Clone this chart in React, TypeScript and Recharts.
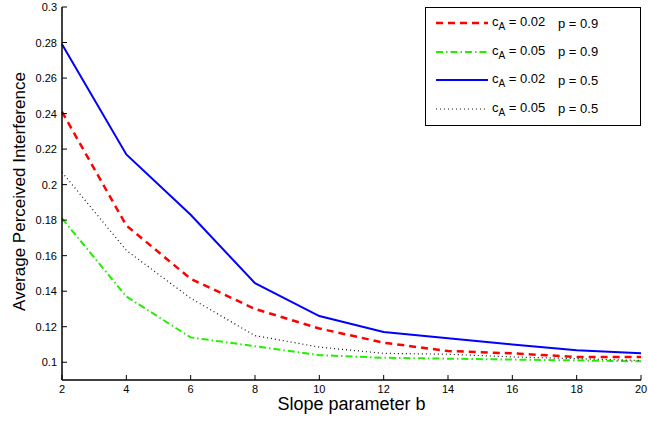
import React from "react";
import { LineChart, Line, XAxis, YAxis, Legend } from "recharts";

const slopeB = [2, 4, 6, 8, 10, 12, 14, 16, 18, 20];
const redA002p09 = [0.241, 0.177, 0.147, 0.13, 0.119, 0.111, 0.1063, 0.105, 0.103, 0.103];
const greenA005p09 = [0.181, 0.137, 0.114, 0.109, 0.104, 0.1025, 0.102, 0.1015, 0.101, 0.1005];
const blueA002p05 = [0.279, 0.217, 0.183, 0.1445, 0.126, 0.117, 0.1135, 0.11, 0.1068, 0.105];
const blackA005p05 = [0.207, 0.163, 0.136, 0.115, 0.1085, 0.105, 0.1045, 0.103, 0.102, 0.101];

const xTicks = [2, 4, 6, 8, 10, 12, 14, 16, 18, 20];
const yTicks = [0.1, 0.12, 0.14, 0.16, 0.18, 0.2, 0.22, 0.24, 0.26, 0.28, 0.3];

const data = slopeB.map((b, i) => ({
  b,
  r: redA002p09[i],
  g: greenA005p09[i],
  u: blueA002p05[i],
  k: blackA005p05[i],
}));

const series = [
  { key: "r", cA: "0.02", p: "0.9", color: "#ff0000", width: 2.5, dash: "7 5" },
  { key: "g", cA: "0.05", p: "0.9", color: "#22ee00", width: 2, dash: "7 3 1.5 3" },
  { key: "u", cA: "0.02", p: "0.5", color: "#0000ff", width: 2, dash: undefined },
  { key: "k", cA: "0.05", p: "0.5", color: "#111111", width: 1.2, dash: "1 3" },
];

const FONT = "'Liberation Sans', Arial, Helvetica, sans-serif";
const TICK = 5;

const LeftTick = (props: any) => {
  const { x, y, payload } = props;
  return (
    <g>
      <line x1={x + 5} x2={x + 5 + TICK} y1={y} y2={y} stroke="#000" strokeWidth={1} />
      <text x={x} y={y} textAnchor="end" dominantBaseline="central" fontSize={11} fill="#000" fontFamily={FONT}>
        {payload.value}
      </text>
    </g>
  );
};

const BottomTick = (props: any) => {
  const { x, y, payload } = props;
  return (
    <g>
      <line x1={x} x2={x} y1={y - 4} y2={y - 4 - TICK} stroke="#000" strokeWidth={1} />
      <text x={x} y={y} dy="0.8em" textAnchor="middle" fontSize={11} fill="#000" fontFamily={FONT}>
        {payload.value}
      </text>
    </g>
  );
};

const TopTick = (props: any) => {
  const { x, y } = props;
  return <line x1={x} x2={x} y1={y} y2={y + TICK} stroke="#000" strokeWidth={1} />;
};

const RightTick = (props: any) => {
  const { x, y } = props;
  return <line x1={x} x2={x - TICK} y1={y} y2={y} stroke="#000" strokeWidth={1} />;
};

const LegendBox = () => (
  <div
    style={{
      width: 216,
      height: 119,
      border: "1px solid #000",
      background: "#fff",
      fontFamily: FONT,
      fontSize: 13,
      boxSizing: "border-box",
      paddingTop: 1,
    }}
  >
    {series.map((s) => (
      <div key={s.key} style={{ display: "flex", alignItems: "center", height: 28.5 }}>
        <svg width={62} height={10} style={{ flex: "none" }}>
          <line x1={10} x2={62} y1={5} y2={5} stroke={s.color} strokeWidth={s.width} strokeDasharray={s.dash} />
        </svg>
        <span style={{ marginLeft: 4, width: 66, whiteSpace: "nowrap" }}>
          c<sub style={{ fontSize: 10 }}>A</sub> = {s.cA}
        </span>
        <span style={{ whiteSpace: "nowrap" }}>p = {s.p}</span>
      </div>
    ))}
  </div>
);

export default function App() {
  return (
    <div style={{ position: "absolute", left: 0, top: 0, background: "#fff" }}>
      <LineChart width={648} height={421} data={data} margin={{ top: 7, right: 7, bottom: 0, left: 0 }}>
        <XAxis
          dataKey="b"
          type="number"
          domain={[2, 20]}
          ticks={xTicks}
          height={41}
          tickSize={0}
          tickMargin={4}
          tickLine={false}
          axisLine={{ stroke: "#000", strokeWidth: 1.5 }}
          tick={BottomTick}
          interval={0}
          label={{
            content: (p: any) => (
              <text
                x={p.viewBox.x + p.viewBox.width / 2}
                y={p.viewBox.y + 30}
                textAnchor="middle"
                fontSize={18}
                fontFamily={FONT}
                fill="#000"
              >
                Slope parameter b
              </text>
            ),
          }}
        />
        <XAxis
          xAxisId="top"
          orientation="top"
          dataKey="b"
          type="number"
          domain={[2, 20]}
          ticks={xTicks}
          height={0}
          tickSize={0}
          tickMargin={0}
          tickLine={false}
          axisLine={{ stroke: "#000", strokeWidth: 1 }}
          tick={TopTick}
          interval={0}
        />
        <YAxis
          type="number"
          domain={[0.09, 0.3]}
          ticks={yTicks}
          width={62}
          tickSize={0}
          tickMargin={5}
          tickLine={false}
          axisLine={{ stroke: "#000", strokeWidth: 1.5 }}
          tick={LeftTick}
          interval={0}
          allowDataOverflow
          label={{
            content: (p: any) => {
              const cx = 19;
              const cy = p.viewBox.y + p.viewBox.height / 2 - 2;
              return (
                <text
                  x={cx}
                  y={cy}
                  transform={`rotate(-90 ${cx} ${cy})`}
                  textAnchor="middle"
                  dominantBaseline="central"
                  fontSize={17}
                  fontFamily={FONT}
                  fill="#000"
                >
                  Average Perceived Interference
                </text>
              );
            },
          }}
        />
        <YAxis
          yAxisId="right"
          orientation="right"
          type="number"
          domain={[0.09, 0.3]}
          ticks={yTicks}
          width={0}
          tickSize={0}
          tickMargin={0}
          tickLine={false}
          axisLine={{ stroke: "#000", strokeWidth: 1 }}
          tick={RightTick}
          interval={0}
          allowDataOverflow
        />
        {series.map((s) => (
          <Line
            key={s.key}
            type="linear"
            dataKey={s.key}
            stroke={s.color}
            strokeWidth={s.width}
            strokeDasharray={s.dash}
            dot={false}
            activeDot={false}
            isAnimationActive={false}
          />
        ))}
        <Legend
          layout="vertical"
          align="center"
          verticalAlign="middle"
          content={LegendBox}
          wrapperStyle={{ position: "absolute", left: 425, top: 7, width: 216, height: 119 }}
        />
      </LineChart>
    </div>
  );
}
